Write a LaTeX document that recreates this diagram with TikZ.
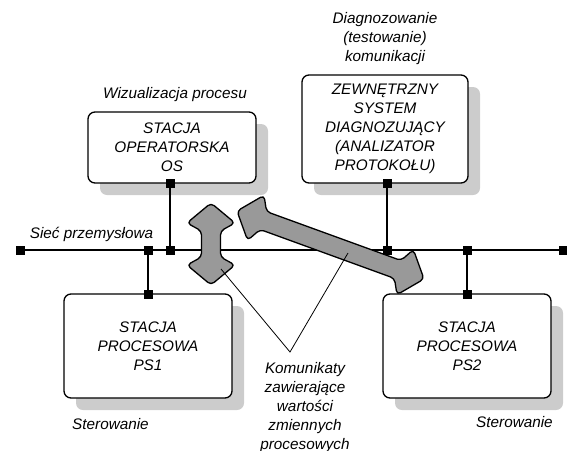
\documentclass[tikz,border=0pt]{standalone}
\usepackage{fontspec}
\setmainfont{Liberation Sans}
\usetikzlibrary{calc,shadows}
\definecolor{shadowgray}{HTML}{CCCCCC}
\definecolor{arrowgray}{HTML}{999999}
\newcommand{\bigdblarrow}[3]{%
 \coordinate (#1-a) at #2; \coordinate (#1-b) at #3;
 \coordinate (#1-ha) at ($(#1-a)!20pt!(#1-b)$);
 \coordinate (#1-na) at ($(#1-a)!28pt!(#1-b)$);
 \coordinate (#1-hb) at ($(#1-b)!20pt!(#1-a)$);
 \coordinate (#1-nb) at ($(#1-b)!28pt!(#1-a)$);
 \draw[bigarrow] (#1-a) -- ($(#1-ha)!24pt!90:(#1-b)$) -- ($(#1-na)!9.5pt!90:(#1-b)$)
   -- ($(#1-nb)!9.5pt!-90:(#1-a)$) -- ($(#1-hb)!24pt!-90:(#1-a)$) -- (#1-b)
   -- ($(#1-hb)!24pt!90:(#1-a)$) -- ($(#1-nb)!9.5pt!90:(#1-a)$)
   -- ($(#1-na)!9.5pt!-90:(#1-b)$) -- ($(#1-ha)!24pt!-90:(#1-b)$) -- cycle;}
\begin{document}
\begin{tikzpicture}[x=1pt,y=-1pt,
  txt/.style={font=\fontsize{15.3}{19}\selectfont\itshape, align=center, inner sep=0pt},
  station/.style={txt, draw=black, line width=1.3pt, rounded corners=7pt, fill=white,
    drop shadow={shadow xshift=12pt, shadow yshift=-12pt, fill=shadowgray, opacity=1}},
  port/.style={fill=black, minimum size=9pt, inner sep=0pt},
  bus/.style={line width=2pt},
  link/.style={line width=1.8pt},
  callout/.style={line width=0.8pt},
  bigarrow/.style={fill=arrowgray, draw=black, line width=1.3pt, rounded corners=4pt, line join=round}]
\useasboundingbox (0,0) rectangle (567,450);

% stations
\node[station, minimum width=168pt, minimum height=71pt] (os) at (172,147.5)
  {STACJA\\OPERATORSKA\\OS};
\node[station, minimum width=166pt, minimum height=108pt] (diag) at (385,129)
  {ZEWNĘTRZNY\\SYSTEM\\DIAGNOZUJĄCY\\(ANALIZATOR\\PROTOKOŁU)};
\node[station, minimum width=168pt, minimum height=104pt] (ps1) at (148,346)
  {STACJA\\PROCESOWA\\PS1};
\node[station, minimum width=168pt, minimum height=104pt] (ps2) at (467,346)
  {STACJA\\PROCESOWA\\PS2};

% bus
\coordinate (b0c) at (20,250);
\coordinate (b5c) at (563,250);
\draw[bus] (b0c) -- (b5c);
\node[port] (b0) at (20,250) {};
\node[port] (b1) at (148,250) {};
\node[port] (b2) at (170,250) {};
\node[port] (b3) at (387,250) {};
\node[port] (b4) at (467,250) {};
\node[port] (b5) at (563,250) {};

\node[port] (osp) at (170,183) {};
\node[port] (diagp) at (387,183) {};
\node[port] (ps1p) at (148,294) {};
\node[port] (ps2p) at (467,294) {};

\draw[link] (osp.center) -- (b2.center);
\draw[link] (diagp.center) -- (b3.center);
\draw[link] (ps1p.center) -- (b1.center);
\draw[link] (ps2p.center) -- (b4.center);

% message arrows
\bigdblarrow{va}{(211,203)}{(211,285)}
\bigdblarrow{da}{(237,211)}{(424,279)}

% callout
\coordinate (cv) at (290,352);
\coordinate (ce1) at (221,269);
\coordinate (ce2) at (348,253);
\draw[callout] (ce1) -- (cv) -- (ce2);

% labels
\node[txt] (wiz) at (175,95) {Wizualizacja procesu};
\node[txt] (diaglbl) at (385,39) {Diagnozowanie\\(testowanie)\\komunikacji};
\node[txt] (siec) at (91.5,234) {Sieć przemysłowa};
\node[txt, anchor=west] (ster1) at (72,424) {Sterowanie};
\node[txt, anchor=west] (ster2) at (476,422) {Sterowanie};
\node[txt] (kom) at (305,408) {Komunikaty\\zawierające\\wartości\\zmiennych\\procesowych};
\end{tikzpicture}
\end{document}
